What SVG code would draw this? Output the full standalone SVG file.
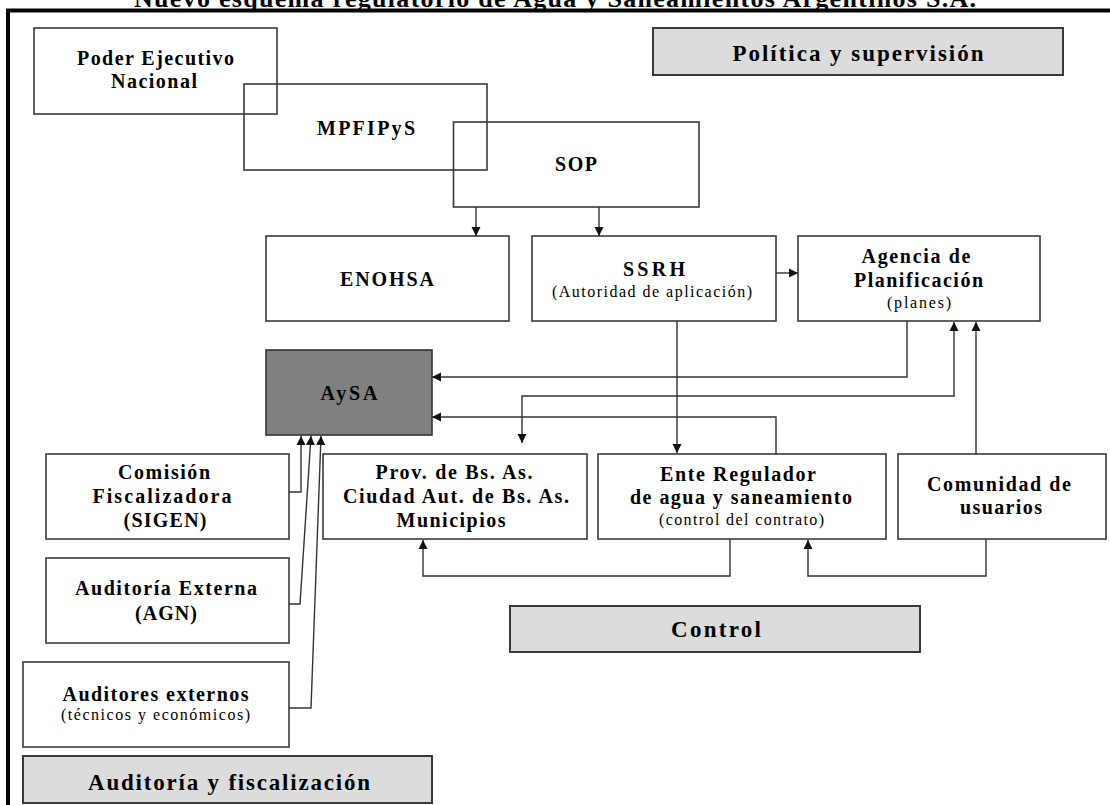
<svg xmlns="http://www.w3.org/2000/svg" width="1110" height="805" viewBox="0 0 1110 805">
<style>
.box{fill:#fff;stroke:#3a3a3a;stroke-width:1.6}
.lab{fill:#dcdcdc;stroke:#3a3a3a;stroke-width:2}
.t{font-family:"Liberation Serif","Times New Roman",serif;font-weight:bold;font-size:20px;fill:#000;text-anchor:middle}
.s{font-family:"Liberation Serif","Times New Roman",serif;font-size:16px;fill:#000;text-anchor:middle}
.big{font-size:23px}
.ttl{font-size:26px}
.c{fill:none;stroke:#333;stroke-width:1.4}
</style>
<defs>
<marker id="ah" markerUnits="userSpaceOnUse" markerWidth="10" markerHeight="10" refX="9" refY="5" orient="auto-start-reverse" viewBox="0 0 10 10">
<path d="M0,0.5 L9,5 L0,9.5 z" fill="#111"/>
</marker>
</defs>
<rect width="1110" height="805" fill="#fff"/>
<text class="t ttl" x="555" y="7" textLength="842">Nuevo esquema regulatorio de Agua y Saneamientos Argentinos S.A.</text>
<path d="M8,805 L8,10.5 L1110,10.5" fill="none" stroke="#000" stroke-width="4"/>

<g id="poder"><rect class="box" x="34" y="28" width="243" height="86"/>
<text class="t" x="155.5" y="65" textLength="157">Poder Ejecutivo</text>
<text class="t" x="154" y="88" textLength="86">Nacional</text></g>
<g id="mpfipys"><rect class="box" x="244" y="84" width="243" height="86" style="fill:none"/>
<text class="t" x="366" y="135" textLength="98">MPFIPyS</text></g>
<g id="sop"><rect class="box" x="453.5" y="122" width="245.5" height="85" style="fill:none"/>
<text class="t" x="576" y="171" textLength="42">SOP</text></g>
<g id="politica"><rect class="lab" x="653" y="28" width="410" height="47"/>
<text class="t big" x="858" y="61" textLength="251">Política y supervisión</text></g>

<g id="enohsa"><rect class="box" x="266" y="236" width="243" height="85"/>
<text class="t" x="387" y="286" textLength="94">ENOHSA</text></g>
<g id="ssrh"><rect class="box" x="532" y="236" width="244" height="85"/>
<text class="t" x="654" y="276" textLength="62">SSRH</text>
<text class="s" x="652" y="297" textLength="200">(Autoridad de aplicación)</text></g>
<g id="agencia"><rect class="box" x="798" y="236" width="242" height="85"/>
<text class="t" x="916" y="263" textLength="109">Agencia de</text>
<text class="t" x="918.5" y="287" textLength="129">Planificación</text>
<text class="s" x="919" y="308" textLength="64">(planes)</text></g>

<g id="aysa"><rect x="266" y="350" width="166" height="85" fill="#808080" stroke="#333" stroke-width="1.6"/>
<text class="t" x="349" y="400" textLength="57">AySA</text></g>

<g id="comision"><rect class="box" x="46" y="454" width="243" height="85"/>
<text class="t" x="164" y="479" textLength="92">Comisión</text>
<text class="t" x="162" y="503" textLength="139">Fiscalizadora</text>
<text class="t" x="165" y="527" textLength="83">(SIGEN)</text></g>
<g id="prov"><rect class="box" x="323" y="454" width="264" height="85"/>
<text class="t" x="454" y="479" textLength="157">Prov. de Bs. As.</text>
<text class="t" x="456" y="503" textLength="226">Ciudad Aut. de Bs. As.</text>
<text class="t" x="451" y="527" textLength="109">Municipios</text></g>
<g id="ente"><rect class="box" x="598" y="454" width="288" height="85"/>
<text class="t" x="738" y="481" textLength="156">Ente Regulador</text>
<text class="t" x="741" y="504" textLength="222">de agua y saneamiento</text>
<text class="s" x="741.5" y="525" textLength="165">(control del contrato)</text></g>
<g id="comunidad"><rect class="box" x="898" y="454" width="208" height="85"/>
<text class="t" x="999" y="491" textLength="144">Comunidad de</text>
<text class="t" x="1001" y="514" textLength="82">usuarios</text></g>

<g id="agn"><rect class="box" x="46" y="558" width="243" height="85"/>
<text class="t" x="166" y="595" textLength="182">Auditoría Externa</text>
<text class="t" x="166" y="620" textLength="62">(AGN)</text></g>
<g id="control"><rect class="lab" x="510" y="606" width="410" height="46"/>
<text class="t big" x="716" y="637" textLength="90">Control</text></g>
<g id="auditores"><rect class="box" x="23" y="662" width="266" height="85"/>
<text class="t" x="155.5" y="701" textLength="186">Auditores externos</text>
<text class="s" x="155.5" y="720" textLength="189">(técnicos y económicos)</text></g>
<g id="auditoria"><rect class="lab" x="23" y="756" width="409" height="47"/>
<text class="t big" x="229" y="790" textLength="282">Auditoría y fiscalización</text></g>

<g id="connectors">
<path class="c" d="M476,207 L476,236" marker-end="url(#ah)"/>
<path class="c" d="M599,207 L599,236" marker-end="url(#ah)"/>
<path class="c" d="M776,273 L798,273" marker-end="url(#ah)"/>
<path class="c" d="M907,321 L907,377 L432,377" marker-end="url(#ah)"/>
<path class="c" d="M954,322 L954,396 L522,396 L522,443" marker-start="url(#ah)" marker-end="url(#ah)"/>
<path class="c" d="M677,321 L677,453" marker-end="url(#ah)"/>
<path class="c" d="M776,454 L776,417 L432,417" marker-end="url(#ah)"/>
<path class="c" d="M976,454 L976,322" marker-end="url(#ah)"/>
<path class="c" d="M730,539 L730,576 L423,576 L423,540" marker-end="url(#ah)"/>
<path class="c" d="M986,539 L986,576 L808,576 L808,540" marker-end="url(#ah)"/>
<path class="c" d="M289,492 L301,492 L301,436" marker-end="url(#ah)"/>
<path class="c" d="M289,604 L300,604 L311,436" marker-end="url(#ah)"/>
<path class="c" d="M289,708 L311,708 L321,436" marker-end="url(#ah)"/>
</g>
</svg>
